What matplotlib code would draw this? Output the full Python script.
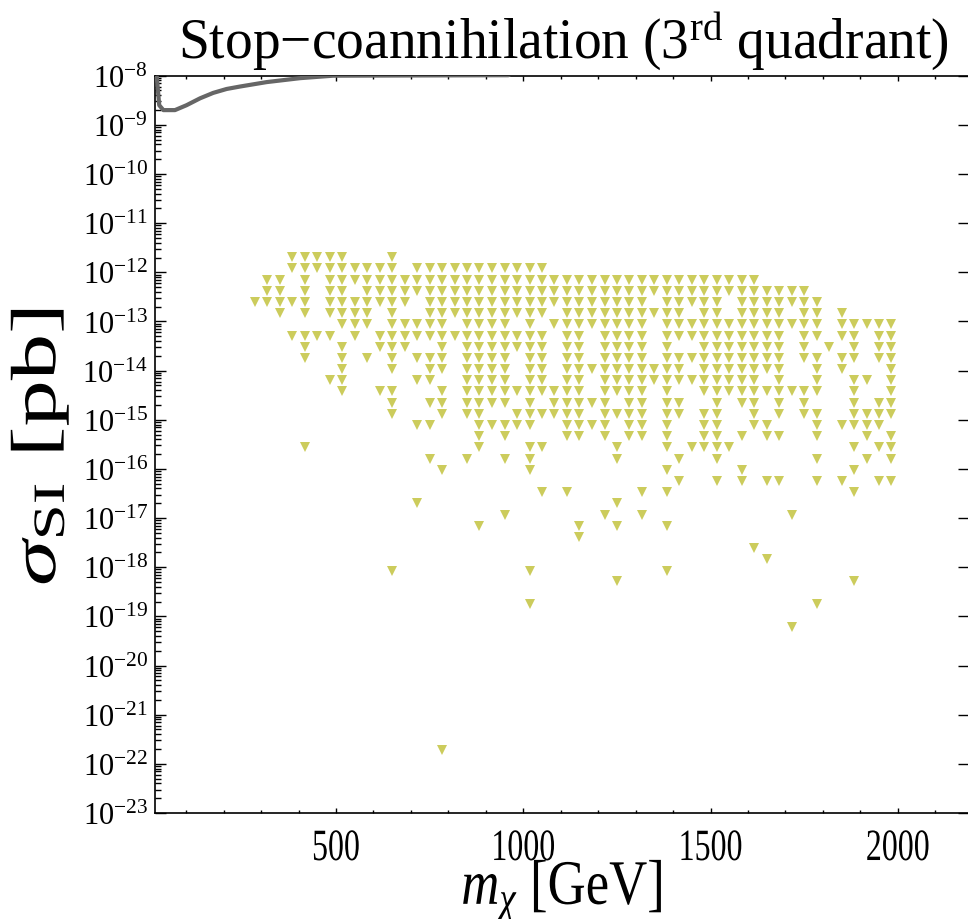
import numpy as np
import matplotlib
matplotlib.use('Agg')
import matplotlib.pyplot as plt
from matplotlib.ticker import FixedLocator, NullFormatter, LogLocator
from matplotlib.patheffects import AbstractPathEffect
from matplotlib.transforms import Affine2D

plt.rcParams['font.family'] = ['Liberation Serif', 'DejaVu Serif']
plt.rcParams['mathtext.fontset'] = 'custom'
plt.rcParams['mathtext.rm'] = 'Liberation Serif'
plt.rcParams['mathtext.it'] = 'Liberation Serif:italic'
plt.rcParams['mathtext.bf'] = 'Liberation Serif:bold'

# ------------------------------------------------------------
# DATA
# ------------------------------------------------------------
# scan points sit on a regular grid: mass columns x log(sigma) rows
mass_grid = [283, 317, 350, 383, 417, 450, 483, 517, 550, 583,
             617, 650, 683, 717, 750, 783, 817, 850, 883, 917,
             950, 983, 1017, 1050, 1083, 1117, 1150, 1183, 1217, 1250,
             1283, 1317, 1350, 1383, 1417, 1450, 1483, 1517, 1550, 1583,
             1617, 1650, 1683, 1717, 1750, 1783, 1817, 1850, 1883, 1917,
             1950, 1983]

log_sigma_rows = [-11.69, -11.92, -12.15, -12.37, -12.60, -12.83, -13.06,
                  -13.29, -13.51, -13.74, -13.97, -14.20, -14.42, -14.65,
                  -14.88, -15.11, -15.33, -15.56, -15.79, -16.02, -16.24,
                  -16.47, -16.70, -16.93, -17.16, -17.38, -17.61, -17.84,
                  -18.07, -18.29, -18.75, -19.21, -21.71]

# 'v' = point present in that mass column (groups of 10 columns)
row_patterns = [
    "...vvvvv.. .v........ .......... .......... .......... ..",
    "...vvvvvvv vv.vvvvvvv vvvv...... .......... .......... ..",
    ".vv.v.vvvv vvvvvvvvvv vvvvvvvvvv vvvvvvvvvv v......... ..",
    ".vv.v.vv.v vvvvvvvvvv vvvvvvvvvv vvvvvvvvvv vvvvv..... ..",
    "vvvvv.vvvv vvv.vvvvvv vvvvvvvvvv vv.vvvvv.v vvvvvv.... ..",
    "..v.v.vvvv .v..vvvvvv vvvv.vvvvv vvvvv.vv.v vvv.vv.v.. ..",
    ".......vvv .vvvvv.vvv v.v.vvvvvv vv.vvvvvvv vvvvvv.vvv vv",
    "...vvvv.v. vvvvvvvvvv vvvv.vv.vv vv.vvvvvvv vvv.vv.vv. vv",
    "....v..v.. vvv..v.vvv vvvv.vv.vv vv.v..vvvv vvv.v.v.v. vv",
    "....v..v.v .v.vvv.vvv v.vv.vv.vv vv.vvvvvvv vvv.vv.vv. vv",
    ".......v.. .v..vv.vvv v.vv.vvvvv vvvvv.vvvv vvv..v.v.. .v",
    "......vv.. ...vv..vvv v.vv.vv.vv vvvvvvvvvv v.v..v..vv .v",
    ".......v.. vv...v.vvv vvvvvvv.vv vv.v..vvvv vvvvvv..v. .v",
    ".......... .v..vv.vvv v.v.vvvvv. vv.vv..v.v v.v.v...v. vv",
    ".......... .v...v.vv. .vvvvvv.vv vv.vv.vv.. v.v.vv..vv vv",
    ".......... ...vv...vv vvv..vvvv. vv.v..vv.. vv...v.vvv v.",
    ".......... ........v. v....vv.v. vv.v..vv.v .vv..v...v .v",
    "....v..... ........v. ..vv.....v ...v.vvvv. ........v. vv",
    ".......... ....v..v.. v.v......v ....v..v.. .....v...v .v",
    ".......... .....v.... ..v....... ...v.....v ........v. ..",
    ".......... .......... .......... ....v..v.v .vv..v.v.. vv",
    ".......... .......... ...v.v.... .v.v...... ........v. ..",
    ".......... ...v...... .........v .......... .......... ..",
    ".......... .......... v.......v. .v........ ...v...... ..",
    ".......... ........v. ......v..v ...v...... .......... ..",
    ".......... .......... ......v... .......... .......... ..",
    ".......... .......... .......... .......... v......... ..",
    ".......... .......... .......... .......... .v........ ..",
    ".......... .v........ ..v....... ...v...... .......... ..",
    ".......... .......... .........v .......... ........v. ..",
    ".......... .......... ..v....... .......... .....v.... ..",
    ".......... .......... .......... .......... ...v...... ..",
    ".......... .....v.... .......... .......... .......... ..",
]

# direct detection limit (grey line), runs along the top edge up to ~960 GeV
limit_mass = [20, 28, 39, 70, 101, 137, 172, 208, 244, 315, 404, 492, 700, 960, 1000]
limit_logsig = [-7.90, -8.60, -8.70, -8.70, -8.60, -8.46, -8.35, -8.27,
                -8.22, -8.13, -8.05, -8.00, -7.995, -7.99, -7.80]


class Stretch(AbstractPathEffect):
    """draw text path scaled about its centre (sx along the text, sy across)"""
    def __init__(self, sx=1.0, sy=1.0):
        super().__init__()
        self.sx, self.sy = sx, sy

    def draw_path(self, renderer, gc, tpath, affine, rgbFace=None):
        v = tpath.vertices
        cx = 0.5 * (v[:, 0].min() + v[:, 0].max())
        cy = 0.5 * (v[:, 1].min() + v[:, 1].max())
        pre = Affine2D().translate(-cx, -cy).scale(self.sx, self.sy).translate(cx, cy)
        renderer.draw_path(gc, tpath, pre + affine, rgbFace)


# ------------------------------------------------------------
# POINTS
# ------------------------------------------------------------
mx, sig = [], []
for logs, pat in zip(log_sigma_rows, row_patterns):
    pat = pat.replace(' ', '')
    for c, ch in enumerate(pat):
        if ch == 'v':
            mx.append(mass_grid[c])
            sig.append(10.0 ** logs)

# ------------------------------------------------------------
# FIGURE
# ------------------------------------------------------------
W, H = 968, 920
fig = plt.figure(figsize=(W / 100, H / 100), dpi=100)
ax = fig.add_axes([155 / W, 1 - 814 / H, (969 - 155) / W, (814 - 76.7) / H])

ax.plot(limit_mass, 10.0 ** np.array(limit_logsig), color='#666666', lw=3.0,
        solid_capstyle='butt', zorder=3)
ax.plot(mx, sig, ls='none', marker='v', ms=6.8, mew=0, color='#cccc5c', zorder=2)

ax.set_yscale('log')
ax.set_xlim(16.7, 2190)
ax.set_ylim(1e-23, 1e-8)

ax.xaxis.set_major_locator(FixedLocator([500, 1000, 1500, 2000]))
ax.xaxis.set_minor_locator(FixedLocator(np.arange(100, 2200, 100)))
ax.yaxis.set_minor_locator(LogLocator(base=10, subs=np.arange(2, 10), numticks=30))
ax.yaxis.set_minor_formatter(NullFormatter())
ax.set_yticks([10.0 ** k for k in range(-23, -7)])
ax.set_yticklabels([r'$10^{%d}$' % k for k in range(-23, -7)])

ax.tick_params(axis='both', which='both', direction='in', top=True, right=True,
               width=1.0, colors='black')
ax.tick_params(axis='x', which='major', length=3.5, labelsize=23, pad=15)
ax.tick_params(axis='x', which='minor', length=2.5)
ax.tick_params(axis='y', which='major', length=8, labelsize=22, pad=5)
ax.tick_params(axis='y', which='minor', length=4, right=False)
for s in ax.spines.values():
    s.set_linewidth(1.2)
for lab in ax.get_xticklabels():
    lab.set_path_effects([Stretch(1.0, 1.4)])

fig.text(563 / W, 1 - 58 / H, r'Stop$-$coannihilation (3$^{\mathrm{rd}}$ quadrant)',
         ha='center', va='baseline', fontsize=40)
fig.text(40 / W, 1 - 448 / H, r'$\sigma_{\mathrm{SI}}$ [pb]', rotation=90,
         ha='center', va='center', fontsize=46, path_effects=[Stretch(1.45, 1.0)])
fig.text(562 / W, 1 - 903 / H, r'$m_{\chi}$ [GeV]', ha='center', va='baseline',
         fontsize=38, path_effects=[Stretch(1.0, 1.2)])

fig.savefig('out.png', dpi=100)
